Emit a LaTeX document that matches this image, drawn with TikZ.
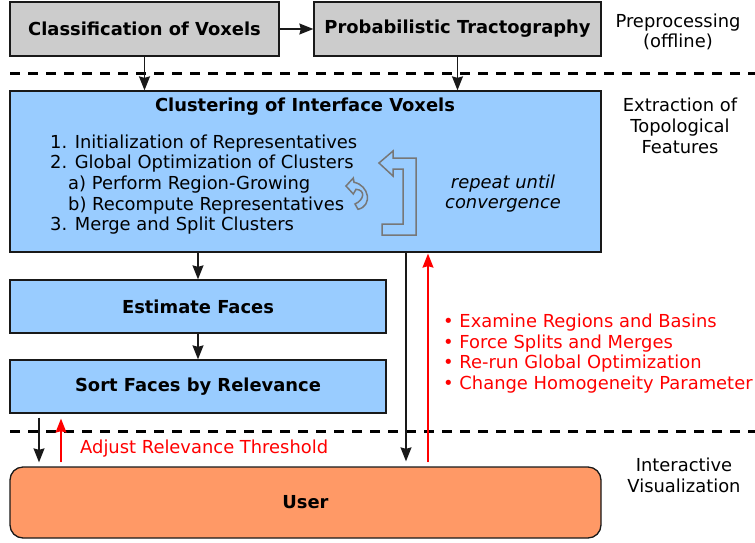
\documentclass[tikz,border=0pt]{standalone}
\usepackage{fontspec}
\setmainfont{DejaVu Sans}
\usetikzlibrary{arrows.meta}
\definecolor{boxgrey}{HTML}{CCCCCC}
\definecolor{boxblue}{HTML}{99CCFF}
\definecolor{boxorange}{HTML}{FF9966}
\definecolor{loopgrey}{HTML}{777777}
\begin{document}
\begin{tikzpicture}[x=1pt,y=-1pt,
  txt/.style={font=\fontsize{17.9}{20.7}\selectfont, inner sep=0pt},
  box/.style={draw=black!90, line width=1.3pt, inner sep=0pt, font=\fontsize{17.9}{20.7}\selectfont\bfseries},
  greybox/.style={box, fill=boxgrey},
  bluebox/.style={box, fill=boxblue},
  userbox/.style={box, fill=boxorange, rounded corners=13pt},
  arr/.style={-{Stealth[length=14pt,width=11pt,inset=1.5pt]}, line width=1.3pt, draw=black!90},
  redarr/.style={-{Stealth[length=14pt,width=11pt,inset=1.5pt]}, line width=1.3pt, draw=red, fill=red},
  sepline/.style={line width=3pt, dash pattern=on 10pt off 8pt},
  loopline/.style={draw=loopgrey, line width=1.5pt, line join=miter}
]
\useasboundingbox (0,0) rectangle (755,542);

% boxes
\node[greybox, minimum width=269pt, minimum height=54pt] (cls) at (144.5,29) {Classification of Voxels};
\node[greybox, minimum width=287pt, minimum height=54pt] (pt) at (457.5,29) {Probabilistic Tractography};
\node[bluebox, minimum width=591pt, minimum height=161pt] (clu) at (305.5,171.5) {};
\node[txt, font=\fontsize{17.9}{20.7}\selectfont\bfseries] (clutitle) at (305,107) {Clustering of Interface Voxels};
\node[txt, align=left, anchor=west] (clulist) at (50,184.5) {1. Initialization of Representatives\\2. Global Optimization of Clusters\\\hspace{18pt}a) Perform Region-Growing\\\hspace{18pt}b) Recompute Representatives\\3. Merge and Split Clusters};
\node[txt, align=center, font=\fontsize{17.9}{20.7}\selectfont\itshape] (repeat) at (503,193.5) {repeat until\\convergence};
\node[bluebox, minimum width=376pt, minimum height=53pt] (est) at (198,306.5) {Estimate Faces};
\node[bluebox, minimum width=376pt, minimum height=53pt] (sort) at (198,386.5) {Sort Faces by Relevance};
\node[userbox, minimum width=591pt, minimum height=71pt] (user) at (305.5,502.5) {User};

% loop arrows
\draw[loopline] (379,163) -- (393,151) -- (393,158) -- (416,158) -- (416,235) -- (382,235) -- (382,224) -- (403,224) -- (403,169) -- (393,169) -- (393,176) -- cycle;
\draw[loopline] (346,186) -- (353.3,178) -- (354,182.3) .. controls (369,185) and (373,206) .. (358,209.3) -- (355,204) .. controls (364,200) and (366,190) .. (356,189.3) -- (353.3,194) -- cycle;

% separators
\draw[sepline] (10,73) -- (755,73);
\draw[sepline] (10,431) -- (755,431);

% side labels
\node[txt, align=center] (lab1) at (678,32) {Preprocessing\\(offline)};
\node[txt, align=center] (lab2) at (680,126) {Extraction of\\Topological\\Features};
\node[txt, align=center] (lab3) at (684,475) {Interactive\\Visualization};

% red texts
\node[txt, text=red, anchor=west] (adjust) at (80,449) {Adjust Relevance Threshold};
\node[txt, text=red, align=left, anchor=west] (actions) at (443,353.5) {• Examine Regions and Basins\\• Force Splits and Merges\\• Re-run Global Optimization\\• Change Homogeneity Parameter};

% connectors
\coordinate (xl1) at (39,0);
\coordinate (xl2) at (61,0);
\coordinate (xr1) at (406,0);
\coordinate (xr2) at (428,0);
\draw[arr] (cls) -- (pt);
\draw[arr] (cls.south) -- (cls.south |- clu.north);
\draw[arr] (pt.south) -- (pt.south |- clu.north);
\draw[arr] (clu.south -| est.north) -- (est.north);
\draw[arr] (est) -- (sort);
\draw[arr, shorten <=4pt, shorten >=4pt] (sort.south -| xl1) -- (user.north -| xl1);
\draw[redarr, shorten <=4pt, shorten >=5pt] (user.north -| xl2) -- (sort.south -| xl2);
\draw[arr, shorten >=5pt] (clu.south -| xr1) -- (user.north -| xr1);
\draw[redarr, shorten <=4pt, shorten >=1pt] (user.north -| xr2) -- (clu.south -| xr2);
\end{tikzpicture}
\end{document}
